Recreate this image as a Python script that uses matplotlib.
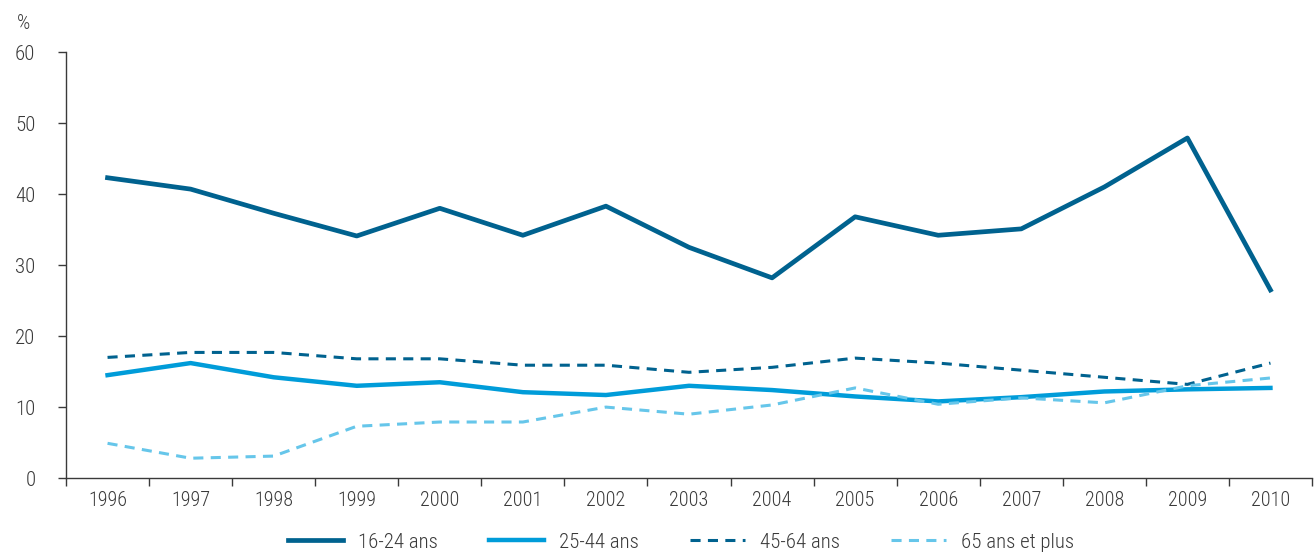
import numpy as np
import matplotlib
matplotlib.use("Agg")
import matplotlib.pyplot as plt
from matplotlib.ticker import FixedLocator, NullFormatter

plt.rcParams['font.family'] = ['Roboto Condensed', 'Barlow Semi Condensed', 'DejaVu Sans']
plt.rcParams['font.weight'] = 'light'

years = ['1996', '1997', '1998', '1999', '2000', '2001', '2002', '2003',
         '2004', '2005', '2006', '2007', '2008', '2009', '2010']
ages_16_24 = [42.3, 40.7, 37.3, 34.1, 38.0, 34.2, 38.3, 32.5, 28.2, 36.8, 34.2, 35.1, 41.0, 47.9, 26.5]
ages_25_44 = [14.5, 16.2, 14.2, 13.0, 13.5, 12.1, 11.7, 13.0, 12.4, 11.5, 10.8, 11.4, 12.2, 12.5, 12.7]
ages_45_64 = [17.0, 17.7, 17.7, 16.8, 16.8, 15.9, 15.9, 14.9, 15.6, 16.9, 16.2, 15.2, 14.2, 13.2, 16.2]
ages_65_plus = [4.9, 2.8, 3.1, 7.3, 7.9, 7.9, 10.0, 9.0, 10.3, 12.7, 10.4, 11.3, 10.6, 13.0, 14.1]

dark = '#00628f'
mid = '#009cd9'
light = '#66c6ea'
txt = '#3a3a3a'

fig = plt.figure(figsize=(13.15, 5.54), dpi=100)
ax = fig.add_axes([0.0502, 0.137, 0.9475, 0.769])

x = np.arange(len(years))
dash = (0, (3.3, 2.4))
ax.plot(x, ages_16_24, color=dark, lw=3.4, label='16-24 ans')
ax.plot(x, ages_25_44, color=mid, lw=3.2, label='25-44 ans')
ax.plot(x, ages_45_64, color=dark, lw=2.2, ls=dash, label='45-64 ans')
ax.plot(x, ages_65_plus, color=light, lw=2.2, ls=dash, label='65 ans et plus')

ax.set_xlim(-0.5, len(years) - 0.5)
ax.set_ylim(0, 60)
ax.set_yticks(range(0, 61, 10))

# category ticks sit between years, labels at the centres
ax.xaxis.set_major_locator(FixedLocator(np.arange(-0.5, len(years), 1.0)))
ax.xaxis.set_major_formatter(NullFormatter())
ax.xaxis.set_minor_locator(FixedLocator(x))
ax.set_xticklabels(years, minor=True)
ax.tick_params(axis='x', which='major', length=6, width=1, color=txt, direction='out')
ax.tick_params(axis='x', which='minor', length=0, pad=9, labelsize=14.5, labelcolor=txt)
ax.tick_params(axis='y', length=6, width=1, color=txt, pad=16, labelsize=15, labelcolor=txt)

for s in ['top', 'right']:
    ax.spines[s].set_visible(False)
for s in ['left', 'bottom']:
    ax.spines[s].set_color(txt)
    ax.spines[s].set_linewidth(1)

fig.text(0.013, 0.958, '%', fontsize=15, color=txt, ha='left', va='center')

fig.legend(loc='center left', bbox_to_anchor=(288 / 1315, 1 - 542 / 554), ncol=4,
           frameon=False, fontsize=15, handlelength=2.64, columnspacing=2.45,
           handletextpad=0.72, borderpad=0, borderaxespad=0, labelcolor=txt)

fig.savefig('out.png', dpi=100)
